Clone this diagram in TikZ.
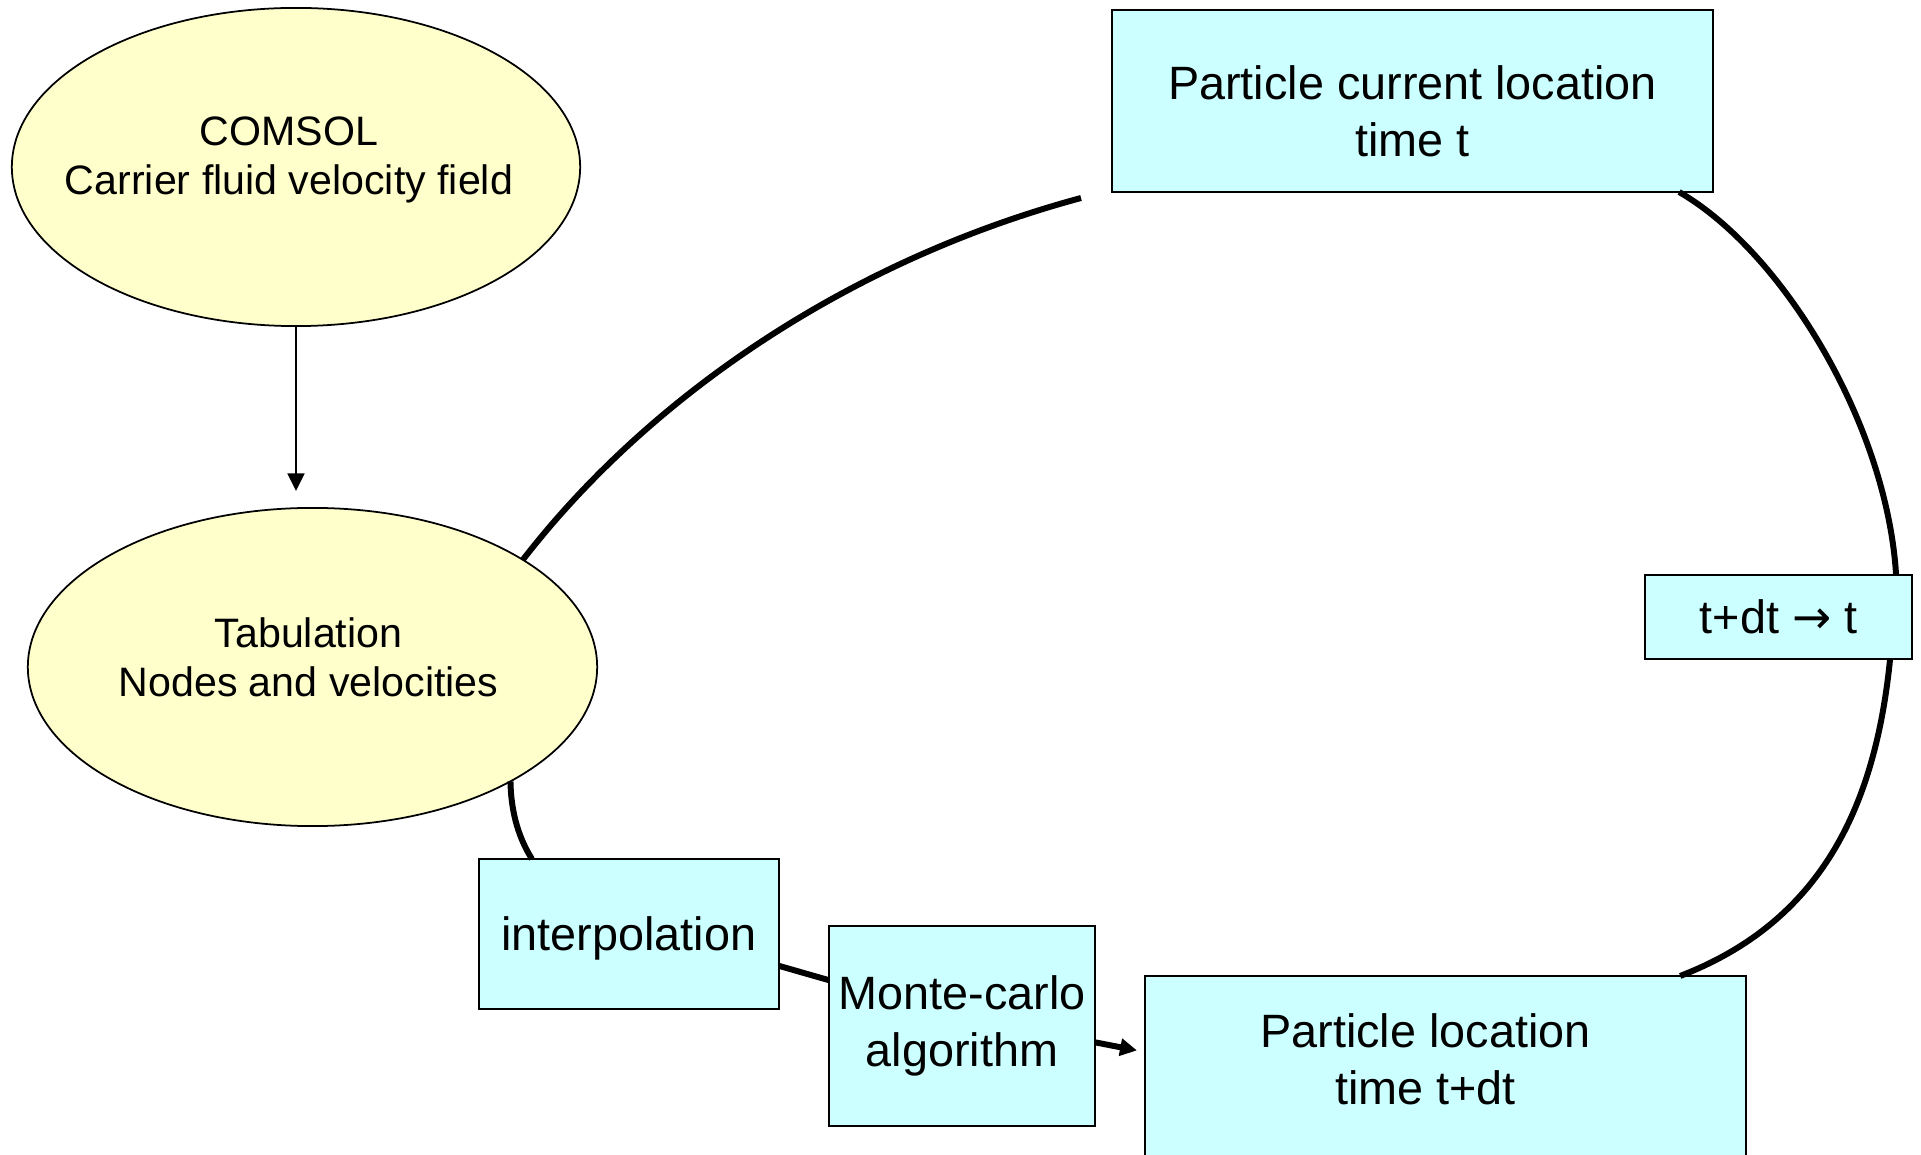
\documentclass[tikz,border=0pt]{standalone}
\usepackage{fontspec}
\setmainfont{Liberation Sans}
\newfontfamily\arrowfont{DejaVu Sans}
\usetikzlibrary{shapes.geometric,arrows.meta,calc}
\definecolor{ellfill}{HTML}{FFFFCC}
\definecolor{boxfill}{HTML}{CCFFFF}
\begin{document}
\begin{tikzpicture}[x=0.01cm,y=-0.01cm,
	ell/.style={ellipse,draw,line width=0.5pt,fill=ellfill,inner sep=0pt,outer sep=0pt},
	elltext/.style={align=center,font=\fontsize{11.7}{14}\selectfont},
	boxtext/.style={align=center,font=\fontsize{13.3}{16.2}\selectfont},
	cyanbox/.style={rectangle,draw,line width=0.6pt,fill=boxfill,inner sep=0pt,outer sep=0pt,boxtext},
	link/.style={line width=1.7pt}]
			\useasboundingbox (0,0) rectangle (1921,1155);
			\node[ell,minimum width=5.68cm,minimum height=3.18cm] (comsol) at (296,167) {};
			\node[elltext] (comsoltxt) at ($(comsol)+(-7,-7)$) {COMSOL\\Carrier fluid velocity field};
			\node[ell,minimum width=5.69cm,minimum height=3.18cm] (tab) at (312.5,667) {};
			\node[elltext] (tabtxt) at ($(tab)+(-4,-10)$) {Tabulation\\Nodes and velocities};
			\node[cyanbox,minimum width=6.01cm,minimum height=1.82cm] (pcur) at (1412.5,101) {};
			\node[boxtext] (pcurtxt) at ($(pcur)+(0,10)$) {Particle current location\\time t};
			\node[cyanbox,minimum width=2.67cm,minimum height=0.84cm] (tdt) at (1778.5,617) {t+dt {\arrowfont →} t};
			\node[cyanbox,minimum width=6.01cm,minimum height=1.82cm] (ploc) at (1445.5,1067) {};
			\node[boxtext] (ploctxt) at ($(ploc)+(-20,-8)$) {Particle location\\time t+dt};
			\node[cyanbox,minimum width=3cm,minimum height=1.5cm,text depth=0pt] (interp) at (629,934) {interpolation};
			\node[cyanbox,minimum width=2.66cm,minimum height=2cm] (mc) at (962,1026) {Monte-carlo\\algorithm};
			\coordinate (curend) at (1081,198);
			\draw[line width=0.6pt,-{Triangle[width=4.8pt,length=5pt]},shorten >=0.17cm] (comsol.south)--(comsol.south |- tab.north);
			\draw[link] (tab.27) .. controls (644,403) and (840,263) .. (curend);
			\draw[link] (tab.-30) .. controls (511,815) and (520,840) .. ($(interp.north west)+(53,0)$);
			\draw[link] (interp.-12)--(mc.161);
			\draw[link,-{Triangle[width=4.8pt,length=4.8pt]},shorten >=0.08cm] (mc.-7)--($(ploc.north west)+(0,76)$);
			\draw[link] ($(pcur.south east)+(-34,0)$) .. controls (1783,252) and (1887,425) .. ($(tdt.north east)+(-16,0)$);
			\draw[link] ($(tdt.south east)+(-22,0)$) .. controls (1875,809) and (1820,922) .. ($(ploc.north east)+(-66,0)$);
			\end{tikzpicture}
\end{document}
